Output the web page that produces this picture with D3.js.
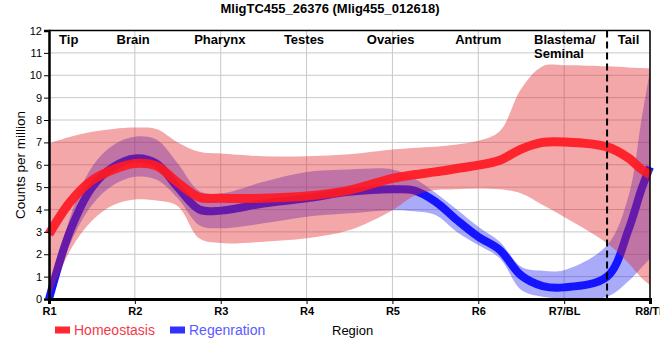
<!DOCTYPE html>
<html><head><meta charset="utf-8">
<script src="https://cdnjs.cloudflare.com/ajax/libs/d3/7.8.5/d3.min.js"></script>
<style>body{margin:0;background:#fff}svg{display:block;font-family:"Liberation Sans",Arial,sans-serif}</style>
</head><body>
<svg id="c" width="660" height="360"></svg>
<script>
const title = "MligTC455_26376 (Mlig455_012618)";
const regionTicks = ["R1","R2","R3","R4","R5","R6","R7/BL","R8/TL"];
const regionNames = ["Tip","Brain","Pharynx","Testes","Ovaries","Antrum","Blastema/|Seminal","Tail"];
const yTicks = [0,1,2,3,4,5,6,7,8,9,10,11,12];
const positions = [1,1.25,1.5,1.75,2,2.25,2.5,2.75,3,3.5,4,4.5,5,5.25,5.5,5.75,6,6.25,6.5,6.75,7,7.5,7.75,7.9,8];
const homeoMean  = [2.9,4.35,5.3,5.79,6.06,5.95,5.2,4.55,4.5,4.5,4.6,4.87,5.39,5.55,5.68,5.83,5.98,6.2,6.7,7.0,7.02,6.8,6.3,5.8,5.55];
const homeoUpper = [6.95,7.25,7.47,7.6,7.66,7.6,7.0,6.58,6.5,6.38,6.38,6.47,6.68,6.75,6.8,6.9,7.07,7.5,9.4,10.4,10.45,10.4,10.35,10.32,10.3];
const homeoLower = [0,2.2,3.5,4.2,4.45,4.4,4.15,2.71,2.5,2.56,2.71,3.08,3.97,4.6,4.87,4.9,4.94,4.9,4.72,4.2,3.67,2.49,1.6,0.95,0.62];
const regenMean  = [0,3.08,4.98,5.9,6.28,6.06,4.98,4.0,3.95,4.27,4.5,4.79,4.9,4.85,4.35,3.53,2.78,2.19,1.05,0.58,0.52,1.0,3.1,4.9,5.9];
const regenUpper = [0,3.7,5.9,6.88,7.25,7.13,6.06,4.83,4.72,5.24,5.68,5.79,5.79,5.4,4.75,4.0,3.23,2.56,1.44,1.26,1.29,2.4,4.6,8.0,10.2];
const regenLower = [0,2.5,4.2,5.09,5.46,5.34,4.5,3.3,3.16,3.38,3.68,3.83,3.97,3.92,3.75,3.0,2.41,1.82,0.4,0.1,0.03,0.1,0.8,1.4,1.8];
const seriesNames = ["Homeostasis","Regenration"];
const dividerAt = 7.5;

const labelPos = [1.23,1.98,2.99,3.97,4.98,6.0,6.65,7.75];

const svg = d3.select("#c");
const L=49, R=650, T=30.5, B=299;
const x = d3.scaleLinear().domain([1,8]).range([L,R]);
const y = d3.scaleLinear().domain([0,12]).range([B,T]);

// grid
const g = svg.append("g");
g.selectAll(".hg").data(yTicks).join("line")
  .attr("x1",L).attr("x2",R).attr("y1",d=>y(d)).attr("y2",d=>y(d))
  .attr("stroke","#c8c8c8").attr("stroke-width",1);
g.selectAll(".vg").data(regionTicks).join("line")
  .attr("x1",(d,i)=>x(i+1)).attr("x2",(d,i)=>x(i+1)).attr("y1",T).attr("y2",B)
  .attr("stroke","#c8c8c8").attr("stroke-width",1);

const rows = positions.map((p,i)=>({p, hm:homeoMean[i], hu:homeoUpper[i], hl:homeoLower[i], rm:regenMean[i], ru:regenUpper[i], rl:regenLower[i]}));
const curve = d3.curveCatmullRom.alpha(0.5);
const area = (u,l)=>d3.area().x(d=>x(d.p)).y0(d=>y(d[l])).y1(d=>y(d[u])).curve(curve);
const line = k=>d3.line().x(d=>x(d.p)).y(d=>y(d[k])).curve(curve);

svg.append("path").datum(rows).attr("d",area("ru","rl")).attr("fill","rgb(40,44,240)").attr("fill-opacity",0.4);
svg.append("path").datum(rows).attr("d",line("rm")).attr("fill","none").attr("stroke","rgb(20,20,255)").attr("stroke-width",8);
svg.append("path").datum(rows).attr("d",area("hu","hl")).attr("fill","rgb(225,35,40)").attr("fill-opacity",0.4);
svg.append("path").datum(rows).attr("d",line("hm")).attr("fill","none").attr("stroke","rgb(255,25,35)").attr("stroke-opacity",0.92).attr("stroke-width",9);

// divider
svg.append("line").attr("x1",x(dividerAt)).attr("x2",x(dividerAt)).attr("y1",T).attr("y2",B)
  .attr("stroke","#000").attr("stroke-width",2).attr("stroke-dasharray","7,4");

// frame
svg.append("line").attr("x1",L).attr("x2",R).attr("y1",T).attr("y2",T).attr("stroke","#000").attr("stroke-width",1.5);
svg.append("line").attr("x1",R).attr("x2",R).attr("y1",T).attr("y2",B).attr("stroke","#000").attr("stroke-width",1.5);

// axes
const ya = svg.append("g").attr("transform",`translate(${L},0)`)
  .call(d3.axisLeft(y).tickValues(yTicks).tickSize(5).tickPadding(2).tickFormat(d3.format("d")));
ya.select(".domain").attr("stroke-width",2.5);
ya.selectAll("text").attr("font-size",11).attr("font-family","Liberation Sans, Arial").attr("fill","#000");
const xa = svg.append("g").attr("transform",`translate(0,${B})`)
  .call(d3.axisBottom(x).tickValues(d3.range(1,9)).tickSize(5).tickPadding(3).tickFormat((d,i)=>regionTicks[i]));
xa.select(".domain").attr("stroke-width",3);
xa.selectAll("text").attr("font-size",11).attr("font-weight","bold").attr("font-family","Liberation Sans, Arial").attr("fill","#000");

// region names
regionNames.forEach((n,i)=>{
  const parts = n.split("|");
  const t = svg.append("text").attr("x",x(labelPos[i])).attr("y",44)
    .attr("font-size",13).attr("font-weight","bold")
    .attr("text-anchor", parts.length>1 ? "start" : "middle");
  parts.forEach((s,j)=>t.append("tspan").attr("x",x(labelPos[i])).attr("dy",j?14:0).text(s));
});

// title
svg.append("text").attr("x",330).attr("y",13).attr("text-anchor","middle")
  .attr("font-size",13).attr("font-weight","bold").text(title);
// y label
svg.append("text").attr("transform","translate(25,165) rotate(-90)").attr("text-anchor","middle")
  .attr("font-size",13.5).text("Counts per million");
// x label
svg.append("text").attr("x",332).attr("y",335).attr("font-size",13).text("Region");

// legend
const legCol = [["rgb(255,40,50)","#f43a48"],["rgb(50,50,255)","#5a5aff"]];
const legX = [55,170];
seriesNames.forEach((n,i)=>{
  svg.append("rect").attr("x",legX[i]).attr("y",326.5).attr("width",15).attr("height",7).attr("fill",legCol[i][0]);
  svg.append("text").attr("x",legX[i]+19).attr("y",335).attr("font-size",14).attr("fill",legCol[i][1]).text(n);
});
</script>
</body></html>
